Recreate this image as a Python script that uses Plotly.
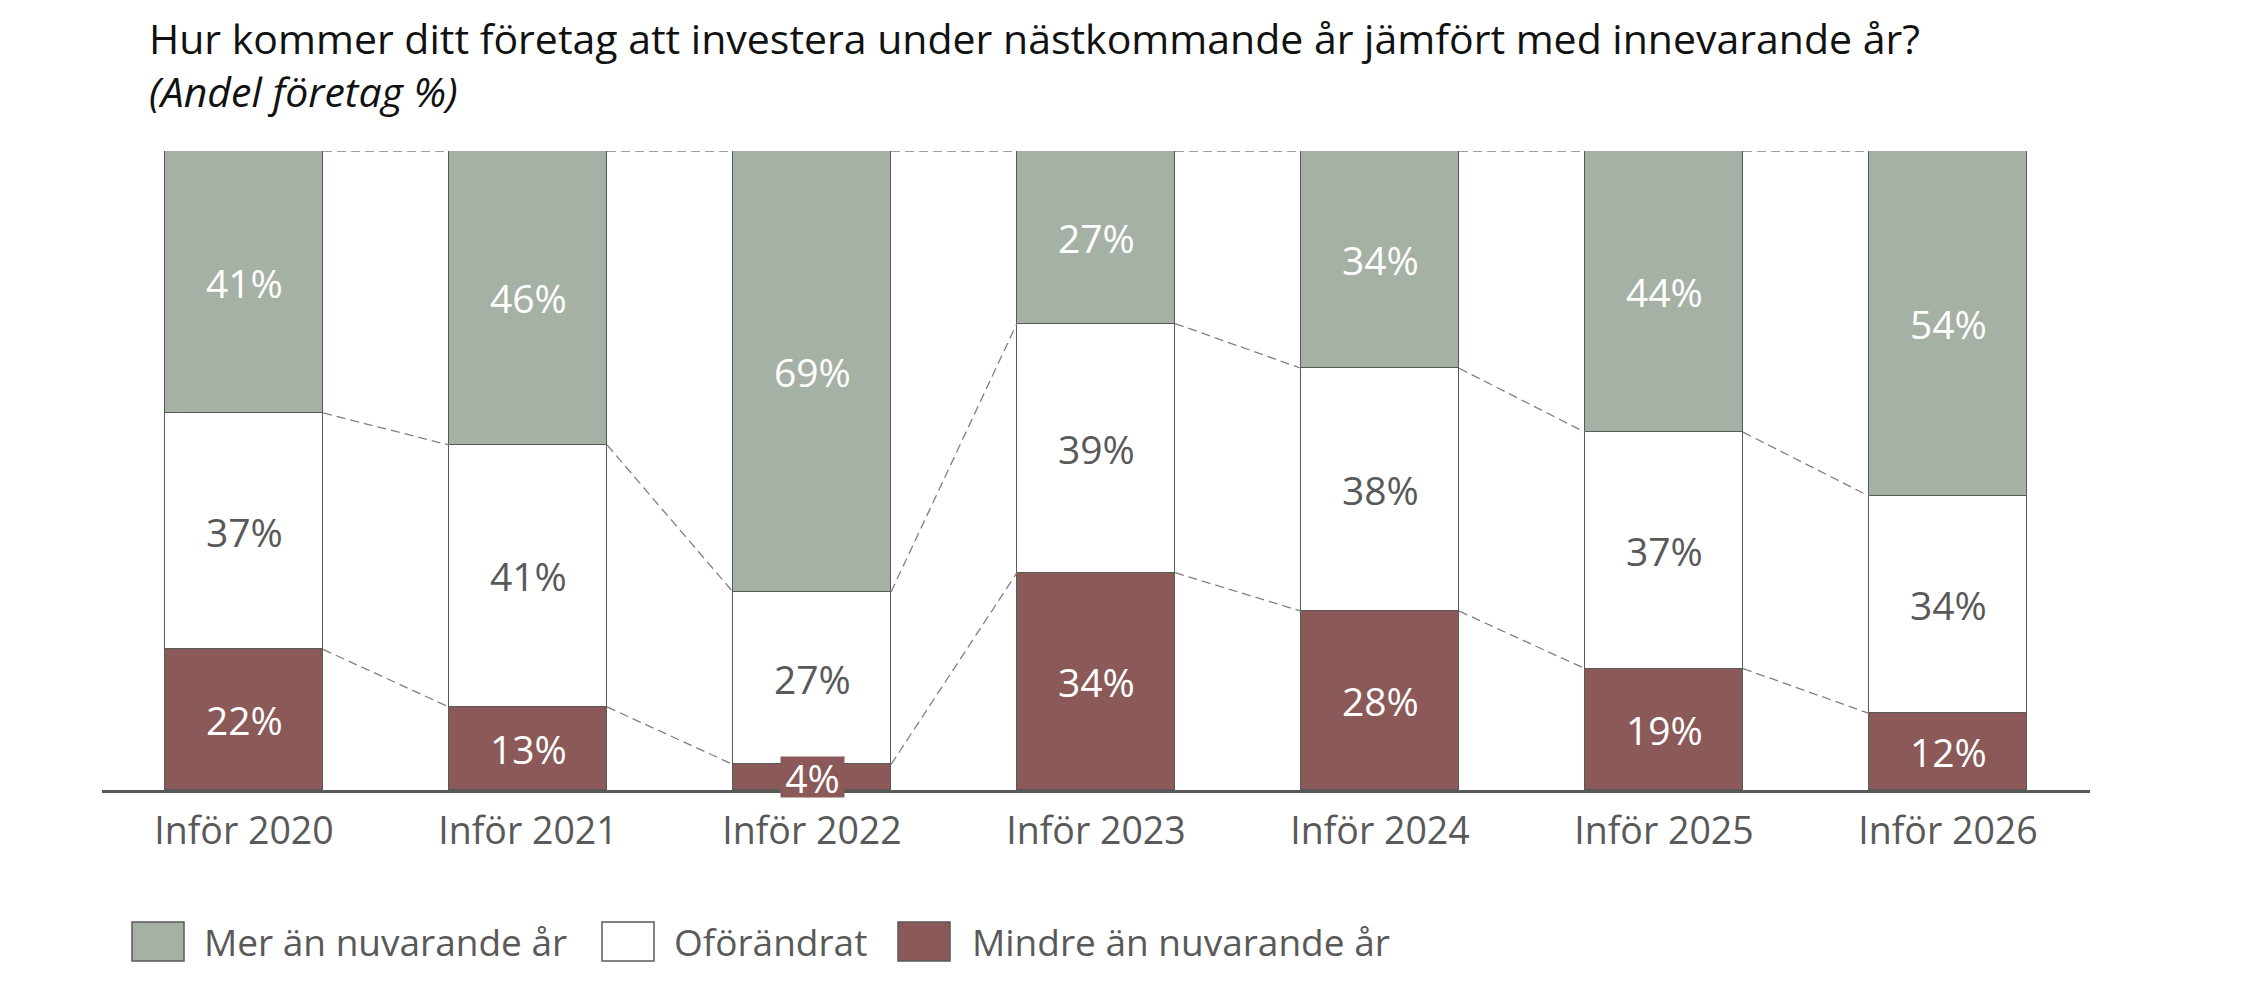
import plotly.graph_objects as go

categories = ["Inför 2020", "Inför 2021", "Inför 2022", "Inför 2023", "Inför 2024", "Inför 2025", "Inför 2026"]
mindre = [22, 13, 4, 34, 28, 19, 12]
oforandrat = [37, 41, 27, 39, 38, 37, 34]
mer = [41, 46, 69, 27, 34, 44, 54]

series_names = ["Mer än nuvarande år", "Oförändrat", "Mindre än nuvarande år"]
title_text = "Hur kommer ditt företag att investera under nästkommande år jämfört med innevarande år?"
subtitle_text = "(Andel företag %)"

GREEN = "#A6B1A5"
RED = "#8B5A58"
WHITE = "#FFFFFF"
EDGE = "#595959"
TXT = "#595959"
FONT = "Open Sans"

OFF = 8  # page body margin
W_FIG, H_FIG = 2250 - OFF, 1007 - OFF
L, T = 102 - OFF, 151 - OFF
PW, PH = 1988, 639
R = W_FIG - L - PW
B = H_FIG - T - PH
BW = 0.557


def pxx(x):
    return (x - OFF - L) / PW


def pxy(y):
    return (T + PH - (y - OFF)) / PH


xs = list(range(len(categories)))
fig = go.Figure()

for vals, col, name in [(mindre, RED, series_names[2]), (oforandrat, WHITE, series_names[1]), (mer, GREEN, series_names[0])]:
    fig.add_trace(go.Bar(
        x=xs, y=vals, name=name, width=BW,
        marker=dict(color=col, line=dict(color=EDGE, width=1.5)),
        showlegend=False, hoverinfo="skip",
    ))

# dashed connectors
levels = [
    mindre,
    [a + b for a, b in zip(mindre, oforandrat)],
    [a + b + c for a, b, c in zip(mindre, oforandrat, mer)],
]
for lev in levels:
    cx, cy = [], []
    for i in range(len(categories) - 1):
        cx += [xs[i] + BW / 2, xs[i + 1] - BW / 2, None]
        cy += [lev[i], lev[i + 1], None]
    fig.add_trace(go.Scatter(
        x=cx, y=cy, mode="lines", showlegend=False, hoverinfo="skip",
        line=dict(color="#808080", width=1.3, dash="9px,5px"),
    ))

annotations = []
for i in xs:
    segs = [
        (0, mindre[i], RED, "white"),
        (mindre[i], mindre[i] + oforandrat[i], WHITE, TXT),
        (mindre[i] + oforandrat[i], mindre[i] + oforandrat[i] + mer[i], GREEN, "white"),
    ]
    vals = [mindre[i], oforandrat[i], mer[i]]
    for (lo, hi, bg, fc), v in zip(segs, vals):
        small = (hi - lo) < 8
        a = dict(
            x=xs[i], y=(lo + hi) / 2, xref="x", yref="y",
            text=f"{v}%", showarrow=False,
            font=dict(family=FONT, size=39, color=fc),
            xanchor="center", yanchor="middle",
        )
        if small:
            a.update(bgcolor=bg, borderpad=0, height=40, width=63)
        annotations.append(a)

annotations.append(dict(
    x=pxx(148), y=pxy(OFF + 1), xref="paper", yref="paper",
    text=f"{title_text}<br><i>{subtitle_text}</i>", showarrow=False,
    xanchor="left", yanchor="top", align="left", borderpad=0,
    font=dict(family=FONT, size=41, color="#111111"),
))

# manual legend
shapes = []
leg = [
    (GREEN, series_names[0], 132, 202),
    (WHITE, series_names[1], 602, 672),
    (RED, series_names[2], 898, 970),
]
for col, name, x0, tx in leg:
    shapes.append(dict(
        type="rect", xref="paper", yref="paper",
        x0=pxx(x0), x1=pxx(x0 + 52), y0=pxy(922), y1=pxy(961),
        fillcolor=col, line=dict(color=EDGE, width=1.5),
    ))
    annotations.append(dict(
        x=pxx(tx), y=pxy(942), xref="paper", yref="paper",
        text=name, showarrow=False, xanchor="left", yanchor="middle",
        font=dict(family=FONT, size=37, color=TXT),
    ))

fig.update_layout(
    width=W_FIG, height=H_FIG,
    margin=dict(l=L, r=R, t=T, b=B),
    barmode="stack",
    bargap=0,
    plot_bgcolor="white", paper_bgcolor="white",
    font=dict(family=FONT, color=TXT),
    annotations=annotations,
    shapes=shapes,
    showlegend=False,
    xaxis=dict(
        range=[-0.5, len(categories) - 0.5],
        tickmode="array", tickvals=xs, ticktext=categories,
        tickfont=dict(family=FONT, size=37.5, color=TXT),
        showgrid=False, zeroline=False,
        showline=True, linecolor=EDGE, linewidth=3,
        ticks="outside", ticklen=6, tickcolor="rgba(0,0,0,0)",
        fixedrange=True,
    ),
    yaxis=dict(
        range=[0, 100], visible=False, showgrid=False, zeroline=False,
        fixedrange=True,
    ),
)

fig.write_html("out.html", config={"displayModeBar": False})
